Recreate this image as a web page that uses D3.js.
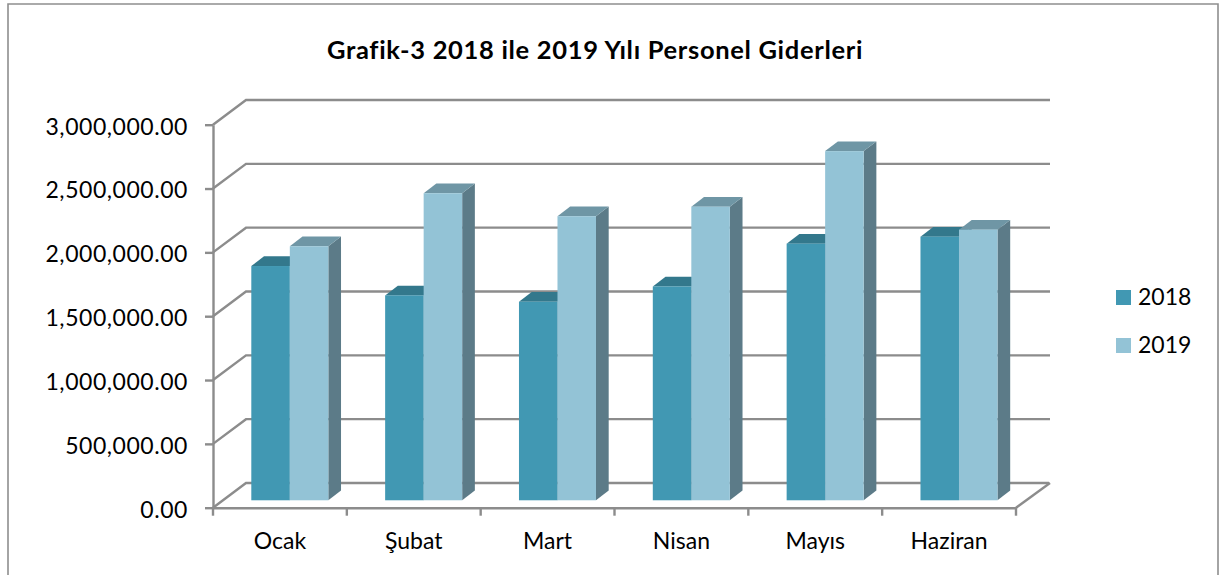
<!DOCTYPE html>
<html>
<head>
<meta charset="utf-8">
<title>Grafik-3</title>
<script src="https://cdn.jsdelivr.net/npm/d3@7"></script>
<style>
  html, body { margin: 0; padding: 0; background: #fff; }
  svg { display: block; }
  text { font-family: Lato, "Open Sans", sans-serif; fill: #000; }
</style>
</head>
<body>
<div id="chart"></div>
<script>
const months = ["Ocak", "Şubat", "Mart", "Nisan", "Mayıs", "Haziran"];
const seriesNames = ["2018", "2019"];
const values2018 = [1835000, 1605000, 1555000, 1675000, 2010000, 2065000];
const values2019 = [1990000, 2405000, 2225000, 2300000, 2735000, 2120000];
const yTicks = [0, 500000, 1000000, 1500000, 2000000, 2500000, 3000000];

function pageLoaded() {
  const w = 1226;
  const h = 575;

  // floor / wall corners of the fake 3d box
  const plot = { left: 213, right: 1016, top: 124.7, bottom: 507.7 };
  const wall = { dx: 33, dy: -24.7 };
  const depth = 0.3; // where the front of the bars sits, as a part of the box depth
  const barDepth = { dx: 12.7, dy: -9.7 };

  const gray = "#8c8c8c";
  const colors = {
    2018: { front: "#4198b3", top: "#33788c", side: "#2f7186" },
    2019: { front: "#93c3d6", top: "#6f96a5", side: "#5c7b88" },
  };

  const svg = d3.select("#chart").append("svg").attr("width", w).attr("height", h);

  // frame, open at the bottom
  svg.append("path")
    .attr("d", "M8,575V4H1218V575")
    .attr("fill", "none")
    .attr("stroke", "#8e8e8e")
    .attr("stroke-width", 1.6);

  svg.append("text")
    .attr("x", 595)
    .attr("y", 59)
    .attr("text-anchor", "middle")
    .attr("font-size", "25.5px")
    .attr("font-weight", "bold")
    .attr("letter-spacing", "0.68px")
    .text("Grafik-3 2018 ile 2019 Yılı Personel Giderleri");

  const yScale = d3.scaleLinear().domain([0, 3000000]).range([plot.bottom, plot.top]);

  const xScale = d3.scaleBand()
    .domain(months)
    .range([plot.left, plot.right])
    .paddingInner(0)
    .paddingOuter(0);

  // same bands pushed back into the box, with the gap around the bars
  const barScale = d3.scaleBand()
    .domain(months)
    .range([plot.left + wall.dx * depth, plot.right + wall.dx * depth])
    .paddingInner(0.4245)
    .paddingOuter(0.21225);

  const seriesScale = d3.scaleBand().domain(seriesNames).range([0, barScale.bandwidth()]);

  // gridlines: diagonal from the axis, then along the back wall
  svg.append("g")
    .selectAll("path")
    .data(yTicks)
    .enter()
    .append("path")
    .attr("fill", "none")
    .attr("stroke", gray)
    .attr("stroke-width", 2.4)
    .attr("d", (d) => {
      const y = yScale(d);
      return `M${plot.left},${y}L${plot.left + wall.dx},${y + wall.dy}H${plot.right + wall.dx + (d == 0 ? 0 : 1)}`;
    });

  // right side of the floor
  svg.append("path")
    .attr("fill", "none")
    .attr("stroke", gray)
    .attr("stroke-width", 2.4)
    .attr("d", `M${plot.right},${plot.bottom}L${plot.right + wall.dx + 1},${plot.bottom + wall.dy}`);

  // bars
  const rows = months.map((m, i) => [
    { month: m, name: "2018", value: values2018[i] },
    { month: m, name: "2019", value: values2019[i] },
  ]);
  const baseShift = wall.dy * depth;

  const groups = svg.append("g")
    .selectAll("g")
    .data(rows)
    .enter()
    .append("g")
    .attr("transform", (d) => `translate(${barScale(d[0].month)},0)`);

  const bars = groups.selectAll("g")
    .data((d) => d)
    .enter()
    .append("g");

  bars.append("path")
    .attr("fill", (d) => colors[d.name].side)
    .attr("d", (d) => {
      const x = seriesScale(d.name) + seriesScale.bandwidth();
      const y0 = yScale(0) + baseShift;
      const y1 = yScale(d.value) + baseShift;
      return `M${x},${y1}l${barDepth.dx},${barDepth.dy}V${y0 + barDepth.dy}L${x},${y0}Z`;
    });

  bars.append("path")
    .attr("fill", (d) => colors[d.name].top)
    .attr("d", (d) => {
      const x = seriesScale(d.name);
      const y1 = yScale(d.value) + baseShift;
      return `M${x},${y1}l${barDepth.dx},${barDepth.dy}h${seriesScale.bandwidth()}l${-barDepth.dx},${-barDepth.dy}Z`;
    });

  bars.append("rect")
    .attr("fill", (d) => colors[d.name].front)
    .attr("x", (d) => seriesScale(d.name))
    .attr("y", (d) => yScale(d.value) + baseShift)
    .attr("width", seriesScale.bandwidth())
    .attr("height", (d) => yScale(0) - yScale(d.value));

  // y axis
  const yAxis = d3.axisLeft(yScale)
    .tickValues(yTicks)
    .tickFormat(d3.format(",.2f"))
    .tickSize(8)
    .tickSizeOuter(0)
    .tickPadding(17);

  const yG = svg.append("g")
    .attr("transform", `translate(${plot.left},0)`)
    .call(yAxis);
  yG.selectAll("line").attr("stroke", gray).attr("stroke-width", 2.4);
  yG.select(".domain").attr("stroke", gray).attr("stroke-width", 2.4);
  yG.selectAll("text")
    .attr("font-size", "23px")
    .attr("font-family", "Lato")
    .attr("letter-spacing", "0.55px")
    .attr("dy", "0.32em")
    .attr("y", 2)
    .attr("fill", "#000");

  // x axis, labels in the band centre, ticks on the band edges
  const xAxis = d3.axisBottom(xScale).tickSize(0).tickPadding(25);
  const xG = svg.append("g")
    .attr("transform", `translate(0,${plot.bottom})`)
    .call(xAxis);
  xG.select(".domain").attr("stroke", gray).attr("stroke-width", 2.4);
  xG.selectAll("text")
    .attr("font-size", "23px")
    .attr("font-family", "Lato")
    .attr("fill", "#000");

  const edges = months.map((m) => xScale(m)).concat([plot.right]);
  xG.selectAll("line.edge")
    .data(edges)
    .enter()
    .append("line")
    .attr("class", "edge")
    .attr("x1", (d) => d)
    .attr("x2", (d) => d)
    .attr("y1", 0)
    .attr("y2", 8)
    .attr("stroke", gray)
    .attr("stroke-width", 2.4);

  // legend
  const legend = svg.append("g")
    .selectAll("g")
    .data(seriesNames)
    .enter()
    .append("g")
    .attr("transform", (d, i) => `translate(1116,${290 + i * 48})`);

  legend.append("rect")
    .attr("width", 15)
    .attr("height", 15)
    .attr("fill", (d) => colors[d].front);

  legend.append("text")
    .attr("x", 22)
    .attr("y", 15)
    .attr("font-size", "23px")
    .text((d) => d);
}

window.addEventListener("load", pageLoaded);
</script>
</body>
</html>
